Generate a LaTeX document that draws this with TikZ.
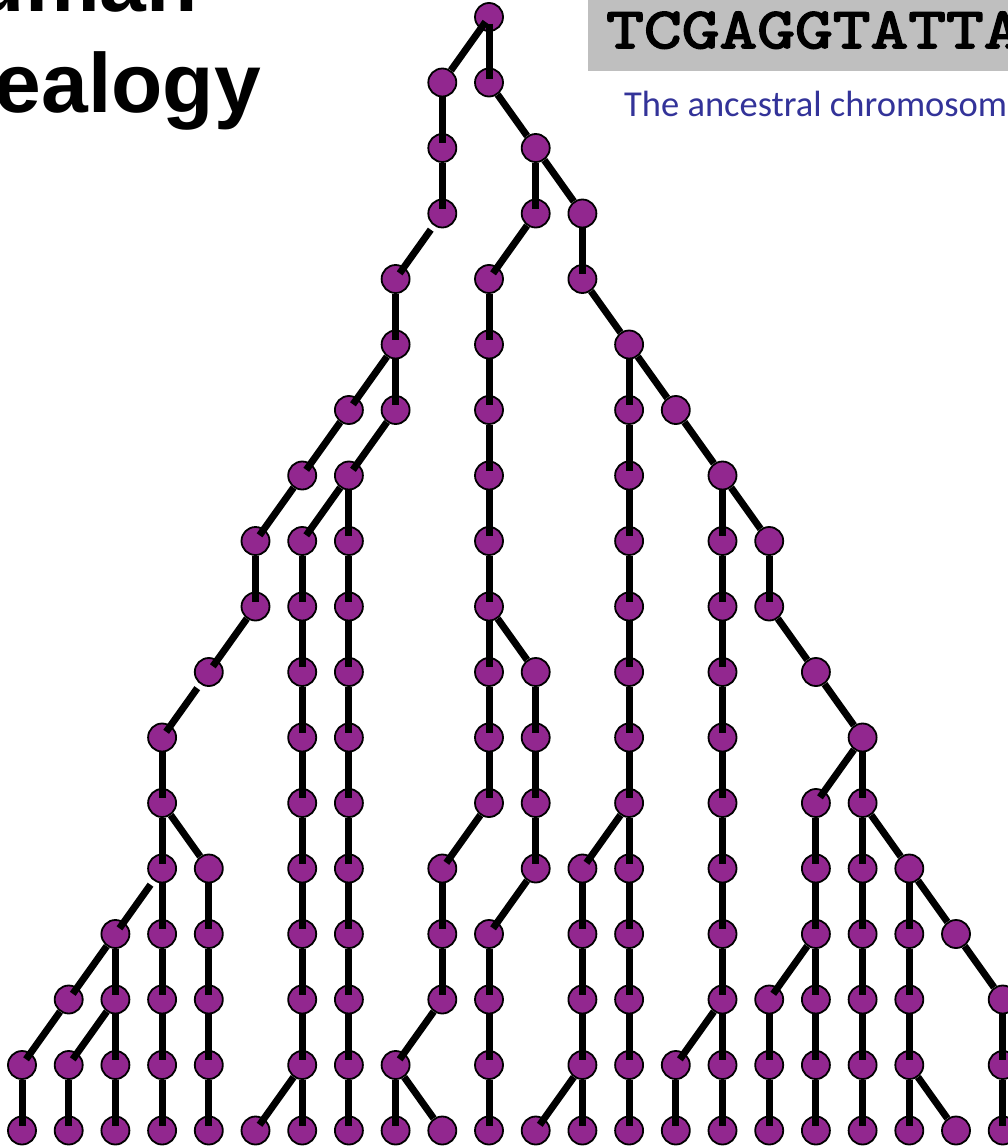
\documentclass[tikz,border=0pt]{standalone}
\usepackage{fontspec}
\setmainfont{Liberation Sans}
\newfontfamily\titlefont{Liberation Sans}
\newfontfamily\seqfont{lmmono10-regular.otf}[FakeBold=3,FakeStretch=1.24]
\newfontfamily\capfont{Carlito}
\definecolor{nodepurple}{RGB}{146,39,143}
\definecolor{boxgrey}{RGB}{191,191,191}
\definecolor{textblue}{RGB}{51,51,153}
\tikzset{
  pnode/.style={circle, fill=nodepurple, draw=black, line width=1.8pt, minimum size=28pt, inner sep=0pt},
  conn/.style={draw=black, line width=7pt},
  vlink/.style={conn, shorten >=5pt},
  llink/.style={conn, shorten >=7pt},
  rlink/.style={conn},
  gaplink/.style={conn, shorten <=5pt, shorten >=7pt},
  titletext/.style={inner sep=0pt, font=\titlefont\bfseries\fontsize{84}{90}\selectfont}
}
\begin{document}
\begin{tikzpicture}[x=1pt,y=-1pt]
\useasboundingbox (0,0) rectangle (1008,1148);
\clip (0,0) rectangle (1008,1148);
\fill[white] (0,0) rectangle (1008,1148);
% header
\fill[boxgrey] (588,-5) rectangle (1015,71);
\node[anchor=base west, inner sep=0pt, font=\seqfont\fontsize{58}{64}\selectfont] (seq) at (606,48) {TCGAGGTATTA};
\node[anchor=base west, inner sep=0pt, text=textblue, font=\capfont\fontsize{36.5}{40}\selectfont] (caption) at (624,116) {The ancestral chromosom};
\node[titletext, anchor=base east] (title1) at (198,12) {Human};
\node[titletext, anchor=base east] (title2) at (261,112) {Genealogy};
% nodes
\foreach \r/\cols in {0/{10},1/{9,10},2/{9,11},3/{9,11,12},4/{8,10,12},5/{8,10,13},
  6/{7,8,10,13,14},7/{6,7,10,13,15},8/{5,6,7,10,13,15,16},9/{5,6,7,10,13,15,16},
  10/{4,6,7,10,11,13,15,17},11/{3,6,7,10,11,13,15,18},12/{3,6,7,10,11,13,15,17,18},
  13/{3,4,6,7,9,11,12,13,15,17,18,19},14/{2,3,4,6,7,9,10,12,13,15,17,18,19,20},
  15/{1,2,3,4,6,7,9,10,12,13,15,16,17,18,19,21},
  16/{0,1,2,3,4,6,7,8,10,12,13,14,15,16,17,18,19,21},
  17/{0,1,2,3,4,5,6,7,8,9,10,11,12,13,14,15,16,17,18,19,20,21}}{
  \foreach \c in \cols {
    \node[pnode] (n-\r-\c) at ({22+46.7*\c},{17+65.5*\r}) {};
  }
}
% root connectors
\draw[conn, shorten <=6pt] (n-0-10.center) -- (n-1-9);
\draw[conn, shorten <=7pt, shorten >=4pt] (n-0-10.center) -- (n-1-10.center);
% vertical connectors
\foreach \r/\cols in {1/{9},2/{9,11},3/{12},4/{8,10},5/{8,10,13},6/{10,13},7/{7,10,13,15},
  8/{5,6,7,10,13,15,16},9/{6,7,10,13,15},10/{6,7,10,11,13,15},11/{3,6,7,10,11,13,15,18},
  12/{3,6,7,11,13,15,17,18},13/{3,4,6,7,9,12,13,15,17,18,19},
  14/{2,3,4,6,7,9,10,12,13,15,17,18,19},15/{2,3,4,6,7,10,12,13,15,16,17,18,19,21},
  16/{0,1,2,3,4,6,7,8,10,12,13,14,15,16,17,18,19,21}}{
  \foreach \c in \cols {
    \pgfmathtruncatemacro\rr{\r+1}
    \draw[vlink] (n-\r-\c) -- (n-\rr-\c.center);
  }
}
% connectors to the lower left
\foreach \r/\c in {3/11,5/8,6/7,6/8,7/6,7/7,9/5,11/18,12/10,12/13,13/11,14/2,14/17,15/1,15/2,15/9,15/15,16/6,16/12}{
  \pgfmathtruncatemacro\rr{\r+1}
  \pgfmathtruncatemacro\cc{\c-1}
  \draw[llink] (n-\r-\c) -- (n-\rr-\cc.center);
}
\foreach \r/\c in {3/9,10/4,13/3}{
  \pgfmathtruncatemacro\rr{\r+1}
  \pgfmathtruncatemacro\cc{\c-1}
  \draw[gaplink] (n-\r-\c) -- (n-\rr-\cc.center);
}
% connectors to the lower right
\foreach \r/\c in {1/10,2/11,4/12,5/13,6/14,7/15,9/10,9/16,10/17,12/3,12/18,13/19,14/20,16/8,16/19}{
  \pgfmathtruncatemacro\rr{\r+1}
  \pgfmathtruncatemacro\cc{\c+1}
  \draw[rlink] (n-\r-\c) -- (n-\rr-\cc);
}
\end{tikzpicture}
\end{document}
